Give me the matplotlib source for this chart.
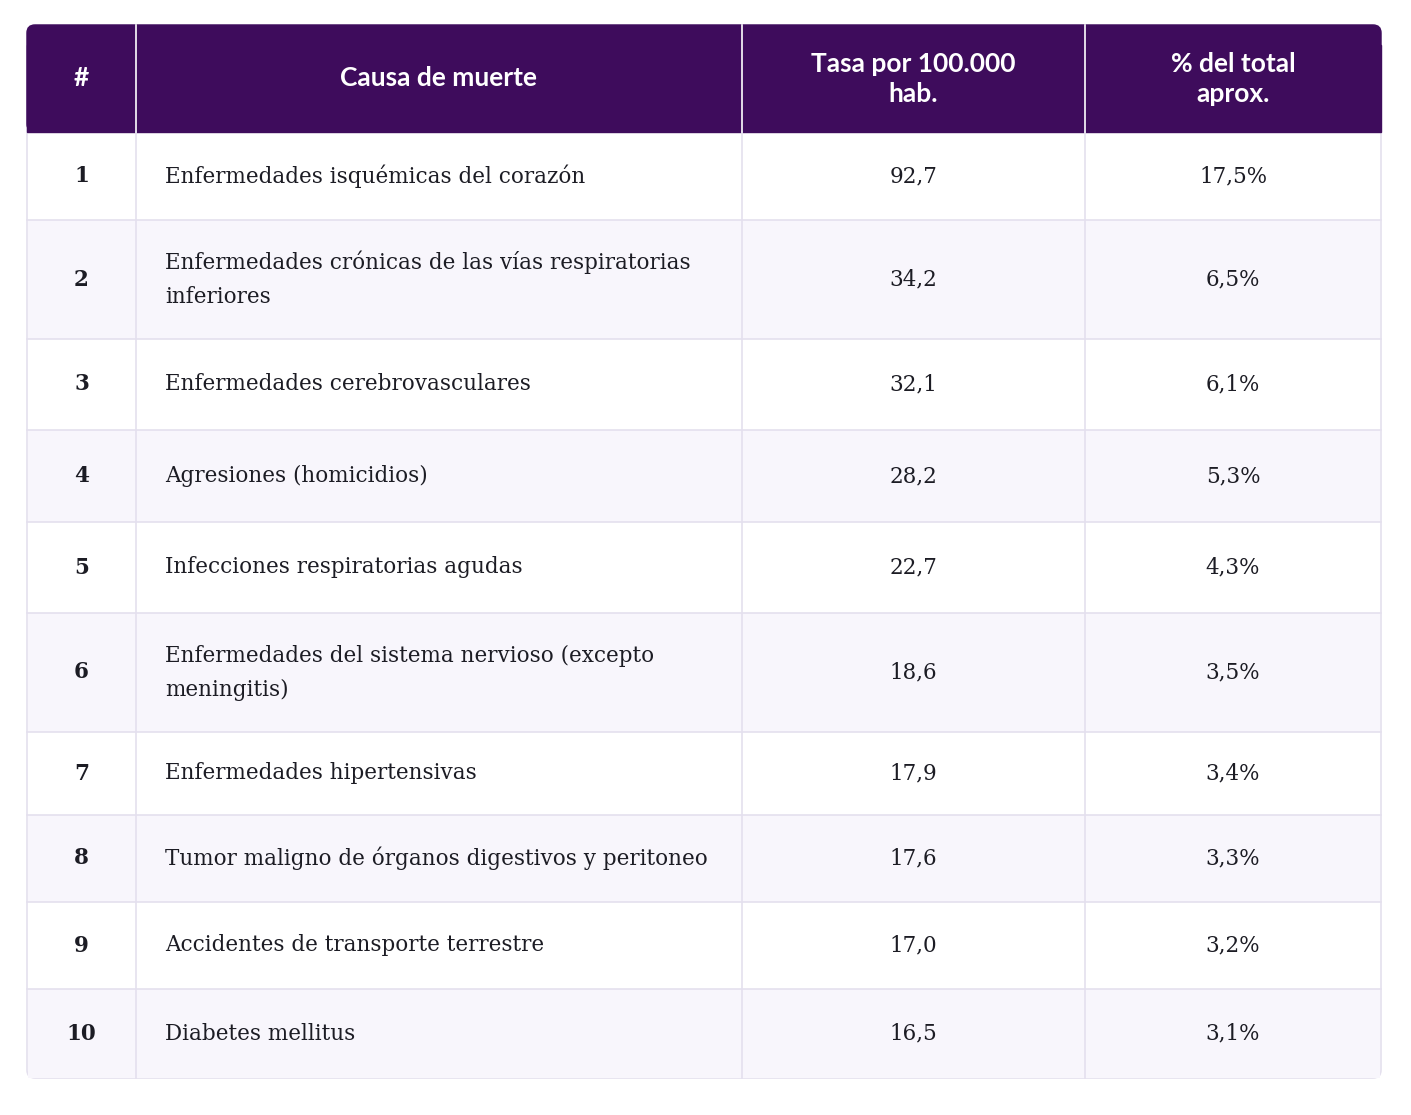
import matplotlib
matplotlib.use("Agg")
import matplotlib.pyplot as plt
from matplotlib.patches import Rectangle, FancyBboxPatch

headers = ["#", "Causa de muerte", "Tasa por 100.000\nhab.", "% del total\naprox."]
ranks = ["1","2","3","4","5","6","7","8","9","10"]
causes = ["Enfermedades isquémicas del corazón",
          "Enfermedades crónicas de las vías respiratorias\ninferiores",
          "Enfermedades cerebrovasculares",
          "Agresiones (homicidios)",
          "Infecciones respiratorias agudas",
          "Enfermedades del sistema nervioso (excepto\nmeningitis)",
          "Enfermedades hipertensivas",
          "Tumor maligno de órganos digestivos y peritoneo",
          "Accidentes de transporte terrestre",
          "Diabetes mellitus"]
rates = ["92,7","34,2","32,1","28,2","22,7","18,6","17,9","17,6","17,0","16,5"]
pcts = ["17,5%","6,5%","6,1%","5,3%","4,3%","3,5%","3,4%","3,3%","3,2%","3,1%"]

W, H = 1411, 1115
fig = plt.figure(figsize=(W/100, H/100), dpi=100)
ax = fig.add_axes([0, 0, 1, 1])
ax.set_xlim(0, W); ax.set_ylim(H, 0); ax.axis("off")

x0, x1 = 27, 1381
cols = [27, 136, 742, 1085, 1381]
rows = [25, 132, 220, 339, 430, 522, 613, 732, 815, 902, 989, 1078]
purple = "#3e0c5c"
grid = "#e4e0ee"

ax.add_patch(FancyBboxPatch((x0, rows[0]), x1-x0, rows[-1]-rows[0],
             boxstyle="round,pad=0,rounding_size=8", fc="white", ec=grid, lw=1.2, zorder=0))
ax.add_patch(FancyBboxPatch((x0, rows[0]), x1-x0, rows[1]-rows[0],
             boxstyle="round,pad=0,rounding_size=8", fc=purple, ec=purple, zorder=1))
ax.add_patch(Rectangle((x0, rows[0]+20), x1-x0, rows[1]-rows[0]-20, fc=purple, ec=purple, zorder=1))

for i in range(10):
    if i % 2 == 1:
        ax.add_patch(Rectangle((x0+1, rows[i+1]), x1-x0-2, rows[i+2]-rows[i+1], fc="#f8f6fc", ec="none", zorder=1))
for y in rows[2:-1]:
    ax.plot([x0, x1], [y, y], color=grid, lw=1.2, zorder=2)
for x in cols[1:-1]:
    ax.plot([x, x], [rows[0], rows[1]], color="white", lw=1.2, zorder=2)
    ax.plot([x, x], [rows[1], rows[-1]], color=grid, lw=1.2, zorder=2)

hfont = dict(family=["Lato", "DejaVu Sans"], fontweight="bold", fontsize=19, color="white")
hy = (rows[0]+rows[1])/2
for j, h in enumerate(headers):
    ax.text((cols[j]+cols[j+1])/2, hy, h, ha="center", va="center", linespacing=1.3, zorder=3, **hfont)

bfont = dict(family=["DejaVu Serif"], fontsize=15.5, color="#1c1c24")
for i in range(10):
    cy = (rows[i+1]+rows[i+2])/2
    ax.text((cols[0]+cols[1])/2, cy, ranks[i], ha="center", va="center", fontweight="bold",
            zorder=3, family=["DejaVu Serif"], fontsize=15.5, color="#1c1c24")
    ax.text(165, cy, causes[i], ha="left", va="center", linespacing=1.7, zorder=3, **bfont)
    ax.text((cols[2]+cols[3])/2, cy, rates[i], ha="center", va="center", zorder=3, **bfont)
    ax.text((cols[3]+cols[4])/2, cy, pcts[i], ha="center", va="center", zorder=3, **bfont)

fig.savefig("out.png", dpi=100, facecolor="white")
